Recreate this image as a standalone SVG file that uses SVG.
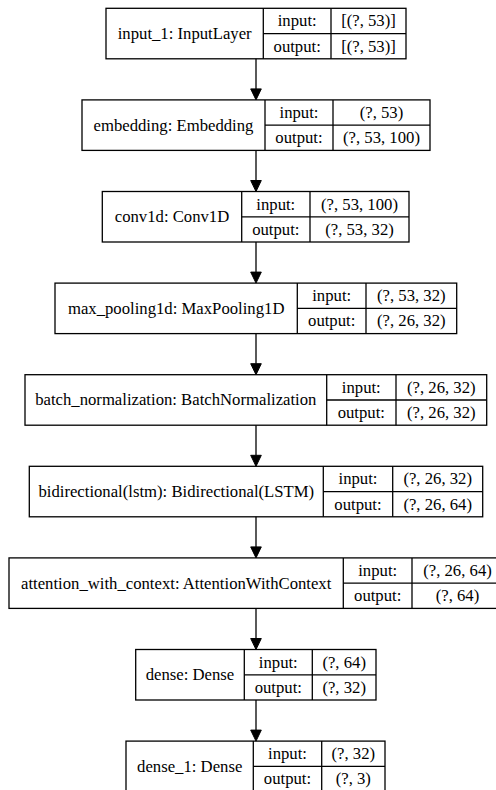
<svg xmlns="http://www.w3.org/2000/svg" width="496" height="790" viewBox="0 0 496 790">
<style>
rect.b{fill:#fff;stroke:#000;stroke-width:1.3}
line.d{stroke:#000;stroke-width:1.3}
text{font-family:"Liberation Serif","Times New Roman",serif;font-size:16.7px;fill:#000;text-anchor:middle}
.edge line{stroke:#000;stroke-width:1.3}
.edge polygon{fill:#000;stroke:#000;stroke-width:1}
</style>
<rect width="496" height="790" fill="#fff"/>
<g id="input_1" transform="translate(0,8.3)">
<rect class="b" x="106" y="0" width="300" height="50.5"/>
<line class="d" x1="263.3" y1="0" x2="263.3" y2="50.5"/>
<line class="d" x1="331" y1="0" x2="331" y2="50.5"/>
<line class="d" x1="263.3" y1="25.3" x2="406" y2="25.3"/>
<text x="184.7" y="30.8">input_1: InputLayer</text>
<text x="297.2" y="18.2">input:</text>
<text x="297.2" y="43.4">output:</text>
<text x="368.5" y="18.2">[(?, 53)]</text>
<text x="368.5" y="43.4">[(?, 53)]</text>
</g>
<g id="embedding" transform="translate(0,99.9)">
<rect class="b" x="82" y="0" width="348" height="50.5"/>
<line class="d" x1="265" y1="0" x2="265" y2="50.5"/>
<line class="d" x1="333" y1="0" x2="333" y2="50.5"/>
<line class="d" x1="265" y1="25.3" x2="430" y2="25.3"/>
<text x="173.5" y="30.8">embedding: Embedding</text>
<text x="299" y="18.2">input:</text>
<text x="299" y="43.4">output:</text>
<text x="381.5" y="18.2">(?, 53)</text>
<text x="381.5" y="43.4">(?, 53, 100)</text>
</g>
<g id="conv1d" transform="translate(0,191.5)">
<rect class="b" x="102.3" y="0" width="306.7" height="50.5"/>
<line class="d" x1="241.7" y1="0" x2="241.7" y2="50.5"/>
<line class="d" x1="310" y1="0" x2="310" y2="50.5"/>
<line class="d" x1="241.7" y1="25.3" x2="409" y2="25.3"/>
<text x="172" y="30.8">conv1d: Conv1D</text>
<text x="275.8" y="18.2">input:</text>
<text x="275.8" y="43.4">output:</text>
<text x="359.5" y="18.2">(?, 53, 100)</text>
<text x="359.5" y="43.4">(?, 53, 32)</text>
</g>
<g id="max_pooling1d" transform="translate(0,283.1)">
<rect class="b" x="55" y="0" width="401.7" height="50.5"/>
<line class="d" x1="297.3" y1="0" x2="297.3" y2="50.5"/>
<line class="d" x1="366" y1="0" x2="366" y2="50.5"/>
<line class="d" x1="297.3" y1="25.3" x2="456.7" y2="25.3"/>
<text x="176.2" y="30.8">max_pooling1d: MaxPooling1D</text>
<text x="331.7" y="18.2">input:</text>
<text x="331.7" y="43.4">output:</text>
<text x="411.3" y="18.2">(?, 53, 32)</text>
<text x="411.3" y="43.4">(?, 26, 32)</text>
</g>
<g id="batch_normalization" transform="translate(0,374.7)">
<rect class="b" x="25" y="0" width="461.7" height="50.5"/>
<line class="d" x1="326.7" y1="0" x2="326.7" y2="50.5"/>
<line class="d" x1="396" y1="0" x2="396" y2="50.5"/>
<line class="d" x1="326.7" y1="25.3" x2="486.7" y2="25.3"/>
<text x="175.8" y="30.8">batch_normalization: BatchNormalization</text>
<text x="361.3" y="18.2">input:</text>
<text x="361.3" y="43.4">output:</text>
<text x="441.3" y="18.2">(?, 26, 32)</text>
<text x="441.3" y="43.4">(?, 26, 32)</text>
</g>
<g id="bidirectional" transform="translate(0,466.3)">
<rect class="b" x="29.3" y="0" width="453.4" height="50.5"/>
<line class="d" x1="323.3" y1="0" x2="323.3" y2="50.5"/>
<line class="d" x1="392.7" y1="0" x2="392.7" y2="50.5"/>
<line class="d" x1="323.3" y1="25.3" x2="482.7" y2="25.3"/>
<text x="176.3" y="30.8">bidirectional(lstm): Bidirectional(LSTM)</text>
<text x="358" y="18.2">input:</text>
<text x="358" y="43.4">output:</text>
<text x="437.7" y="18.2">(?, 26, 32)</text>
<text x="437.7" y="43.4">(?, 26, 64)</text>
</g>
<g id="attention_with_context" transform="translate(0,557.9)">
<rect class="b" x="9" y="0" width="494" height="50.5"/>
<line class="d" x1="343.3" y1="0" x2="343.3" y2="50.5"/>
<line class="d" x1="412" y1="0" x2="412" y2="50.5"/>
<line class="d" x1="343.3" y1="25.3" x2="503" y2="25.3"/>
<text x="176.2" y="30.8">attention_with_context: AttentionWithContext</text>
<text x="377.7" y="18.2">input:</text>
<text x="377.7" y="43.4">output:</text>
<text x="457.5" y="18.2">(?, 26, 64)</text>
<text x="457.5" y="43.4">(?, 64)</text>
</g>
<g id="dense" transform="translate(0,649.5)">
<rect class="b" x="135.7" y="0" width="240.3" height="50.5"/>
<line class="d" x1="244.3" y1="0" x2="244.3" y2="50.5"/>
<line class="d" x1="312.3" y1="0" x2="312.3" y2="50.5"/>
<line class="d" x1="244.3" y1="25.3" x2="376" y2="25.3"/>
<text x="190" y="30.8">dense: Dense</text>
<text x="278.3" y="18.2">input:</text>
<text x="278.3" y="43.4">output:</text>
<text x="344.2" y="18.2">(?, 64)</text>
<text x="344.2" y="43.4">(?, 32)</text>
</g>
<g id="dense_1" transform="translate(0,741.1)">
<rect class="b" x="126" y="0" width="259" height="50.5"/>
<line class="d" x1="253.3" y1="0" x2="253.3" y2="50.5"/>
<line class="d" x1="321.7" y1="0" x2="321.7" y2="50.5"/>
<line class="d" x1="253.3" y1="25.3" x2="385" y2="25.3"/>
<text x="189.7" y="30.8">dense_1: Dense</text>
<text x="287.5" y="18.2">input:</text>
<text x="287.5" y="43.4">output:</text>
<text x="353.3" y="18.2">(?, 32)</text>
<text x="353.3" y="43.4">(?, 3)</text>
</g>
<g class="edge" id="connectors">
<line x1="256" y1="58.8" x2="256" y2="89"/><polygon points="250.7,88.9 261.3,88.9 256,99.9"/>
<line x1="256" y1="150.4" x2="256" y2="180.6"/><polygon points="250.7,180.5 261.3,180.5 256,191.5"/>
<line x1="256" y1="242" x2="256" y2="272.2"/><polygon points="250.7,272.1 261.3,272.1 256,283.1"/>
<line x1="256" y1="333.6" x2="256" y2="363.8"/><polygon points="250.7,363.7 261.3,363.7 256,374.7"/>
<line x1="256" y1="425.2" x2="256" y2="455.4"/><polygon points="250.7,455.3 261.3,455.3 256,466.3"/>
<line x1="256" y1="516.8" x2="256" y2="547"/><polygon points="250.7,546.9 261.3,546.9 256,557.9"/>
<line x1="256" y1="608.4" x2="256" y2="638.6"/><polygon points="250.7,638.5 261.3,638.5 256,649.5"/>
<line x1="256" y1="700" x2="256" y2="730.2"/><polygon points="250.7,730.1 261.3,730.1 256,741.1"/>
</g>
</svg>
